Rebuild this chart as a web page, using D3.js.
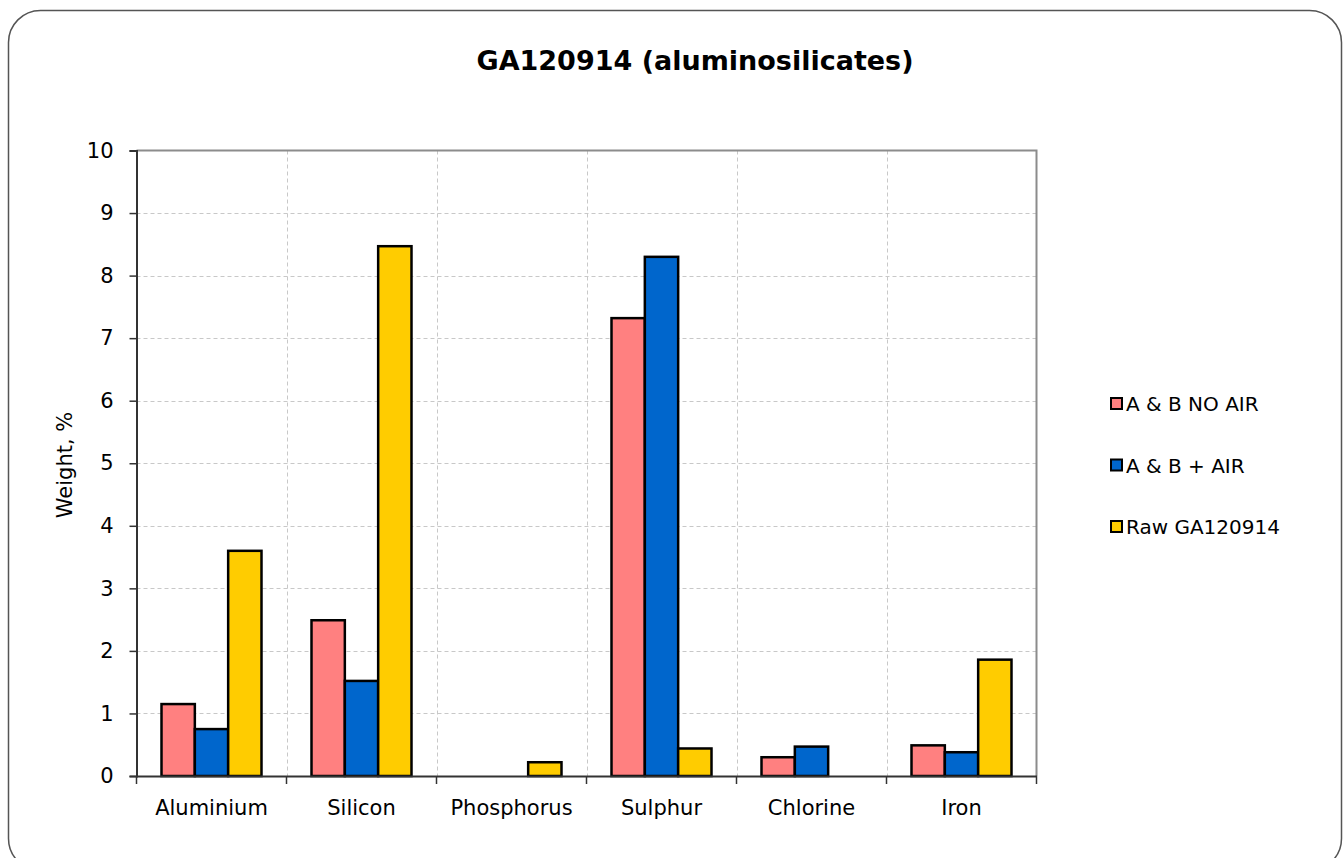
<!DOCTYPE html>
<html>
<head>
<meta charset="utf-8">
<script src="https://cdn.jsdelivr.net/npm/d3@7"></script>
<style>
  html, body { margin: 0; padding: 0; background: #fff; }
  svg { display: block; }
</style>
</head>
<body>
<svg id="chart" width="1343" height="858"></svg>
<script>
// Element composition data (weight %)
const categories = ["Aluminium", "Silicon", "Phosphorus", "Sulphur", "Chlorine", "Iron"];
const seriesNames = ["A & B NO AIR", "A & B + AIR", "Raw GA120914"];
const noAir  = [1.15, 2.49, 0, 7.32, 0.30, 0.49];
const withAir = [0.75, 1.52, 0, 8.30, 0.47, 0.38];
const raw    = [3.60, 8.47, 0.22, 0.44, 0, 1.86];
const yTicks = [0, 1, 2, 3, 4, 5, 6, 7, 8, 9, 10];
const colors = ["#ff8080", "#0066cc", "#ffcc00"];

const seriesValues = [noAir, withAir, raw];

const svg = d3.select("#chart");
const font = "Tahoma, 'DejaVu Sans', Verdana, sans-serif";

// Chart frame with rounded corners
svg.append("rect")
  .attr("x", 8.5).attr("y", 10.5)
  .attr("width", 1333).attr("height", 860)
  .attr("rx", 32).attr("ry", 32)
  .attr("fill", "#fff")
  .attr("stroke", "#555").attr("stroke-width", 1.5);

const plot = { left: 136.5, top: 150.5, right: 1036.5, bottom: 776 };

const x = d3.scaleBand()
  .domain(categories)
  .range([plot.left, plot.right])
  .paddingInner(0).paddingOuter(0);

// Bars take two thirds of each category, centred
const x1 = d3.scaleBand()
  .domain(d3.range(seriesNames.length))
  .range([0, x.bandwidth()])
  .paddingInner(0)
  .paddingOuter(0.75);

const y = d3.scaleLinear().domain([0, 10]).range([plot.bottom, plot.top]);

// Horizontal gridlines
svg.append("g")
  .selectAll("line")
  .data(yTicks.filter(d => d > 0 && d < 10))
  .join("line")
  .attr("x1", plot.left).attr("x2", plot.right)
  .attr("y1", d => Math.round(y(d)) + 0.5).attr("y2", d => Math.round(y(d)) + 0.5)
  .attr("stroke", "#c8c8c8").attr("stroke-dasharray", "4,3");

// Vertical gridlines at category boundaries
svg.append("g")
  .selectAll("line")
  .data(categories.slice(1))
  .join("line")
  .attr("x1", d => Math.round(x(d)) + 0.5).attr("x2", d => Math.round(x(d)) + 0.5)
  .attr("y1", plot.top).attr("y2", plot.bottom)
  .attr("stroke", "#c8c8c8").attr("stroke-dasharray", "4,3");

// Plot area top and right borders
svg.append("path")
  .attr("d", `M${plot.left},${plot.top}H${plot.right}V${plot.bottom}`)
  .attr("fill", "none").attr("stroke", "#8c8c8c").attr("stroke-width", 2);

// Bars
const groups = svg.append("g")
  .selectAll("g")
  .data(categories)
  .join("g")
  .attr("transform", d => `translate(${x(d)},0)`);

groups.selectAll("rect")
  .data((c, i) => seriesValues.map((vals, s) => ({ s, v: vals[i] })).filter(d => d.v > 0))
  .join("rect")
  .attr("x", d => x1(d.s))
  .attr("width", x1.bandwidth())
  .attr("y", d => y(d.v))
  .attr("height", d => y(0) - y(d.v))
  .attr("fill", d => colors[d.s])
  .attr("stroke", "#000").attr("stroke-width", 2.5);

// Y axis
const yAxis = d3.axisLeft(y).tickValues(yTicks).tickSize(7).tickPadding(16).tickFormat(d3.format("d"));
const gy = svg.append("g").attr("transform", `translate(${plot.left},0)`).call(yAxis);
gy.select(".domain").attr("stroke", "#333").attr("stroke-width", 2);
gy.selectAll(".tick line").attr("stroke", "#333").attr("stroke-width", 1.5);
gy.selectAll(".tick text").attr("font-family", font).attr("font-size", 21).attr("fill", "#000");

// X axis
const xAxis = d3.axisBottom(x).tickSize(0).tickPadding(24);
const gx = svg.append("g").attr("transform", `translate(0,${plot.bottom})`).call(xAxis);
gx.select(".domain").attr("stroke", "#333").attr("stroke-width", 2);
gx.selectAll(".tick text").attr("font-family", font).attr("font-size", 21).attr("fill", "#000");

// Category boundary ticks
svg.append("g")
  .selectAll("line")
  .data(d3.range(categories.length + 1))
  .join("line")
  .attr("x1", i => plot.left + i * x.bandwidth()).attr("x2", i => plot.left + i * x.bandwidth())
  .attr("y1", plot.bottom).attr("y2", plot.bottom + 8)
  .attr("stroke", "#333").attr("stroke-width", 1.5);

// Title
svg.append("text")
  .attr("x", 695).attr("y", 70)
  .attr("text-anchor", "middle")
  .attr("font-family", font).attr("font-weight", "bold").attr("font-size", 27)
  .text("GA120914 (aluminosilicates)");

// Y axis title
svg.append("text")
  .attr("transform", "translate(72,465) rotate(-90)")
  .attr("text-anchor", "middle")
  .attr("font-family", font).attr("font-size", 21)
  .text("Weight, %");

// Legend
const legend = svg.append("g")
  .selectAll("g")
  .data(seriesNames)
  .join("g")
  .attr("transform", (d, i) => `translate(1111,${404 + i * 61.5})`);

legend.append("rect")
  .attr("x", 0).attr("y", -6)
  .attr("width", 11).attr("height", 11)
  .attr("fill", (d, i) => colors[i])
  .attr("stroke", "#000").attr("stroke-width", 2);

legend.append("text")
  .attr("x", 15).attr("y", 7)
  .attr("font-family", font).attr("font-size", 20)
  .text(d => d);
</script>
</body>
</html>
